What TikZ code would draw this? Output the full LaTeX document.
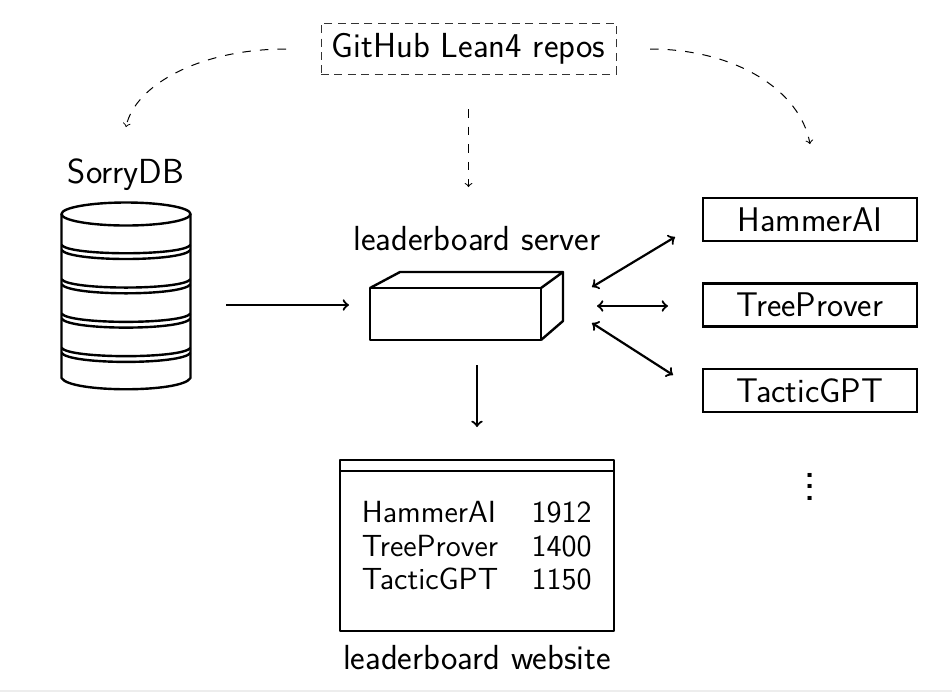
\documentclass[tikz,border=0pt]{standalone}
\usepackage{amsmath,amssymb}
\renewcommand{\familydefault}{\sfdefault}
\tikzset{
  agentbox/.style={draw,line width=1.2pt,minimum width=107pt,minimum height=21.5pt,inner sep=0pt,font=\fontsize{17.1}{22}\selectfont},
  rowtext/.style={inner sep=0pt,font=\fontsize{15.3}{20}\selectfont},
  thinarrow/.style={->,line width=0.5pt,dash pattern=on 4.3pt off 4.5pt},
  solidarrow/.style={->,line width=1.1pt},
  solidboth/.style={<->,line width=1.1pt},
  solidline/.style={line width=1.2pt,line join=round}
}
\begin{document}
\begin{tikzpicture}[x=0.5pt,y=-0.5pt,font=\fontsize{17.4}{22}\selectfont]
\useasboundingbox (0,0) rectangle (952,692);
\fill [black!7] (0,690) rectangle (952,692);
\node [draw=black!80,line width=0.5pt,dash pattern=on 4pt off 2.7pt,minimum width=147.5pt,minimum height=25.5pt,inner sep=0pt] (repos) at (468.5,48.5) {GitHub Lean4 repos};
\node (sorrydb) at (126,175) {SorryDB};
\node (server) at (477,239) {leaderboard server};
\node (website) at (477,658) {leaderboard website};
\node [agentbox] (hammer) at (810,219.5) {HammerAI};
\node [agentbox] (tree) at (810,305) {TreeProver};
\node [agentbox] (tactic) at (810,390.5) {TacticGPT};
\node [scale=1.45] (dots) at (810,478) {$\vdots$};
% database
\draw [solidline] (126,214) ellipse (64.5 and 11.5);
\draw [solidline] (61.5,214) -- (61.5,378) .. controls (70,393) and (182,393) .. (190.5,378) -- (190.5,214);
\foreach \i in {0,1,2,3} {
  \draw [solidline] (61.5,245+34.3*\i) .. controls (70,256+34.3*\i) and (182,256+34.3*\i) .. (190.5,245+34.3*\i);
  \draw [solidline] (61.5,250+34.3*\i) .. controls (70,262+34.3*\i) and (182,262+34.3*\i) .. (190.5,250+34.3*\i);
}
% server box
\draw [solidline] (370,288) rectangle (541,340);
\draw [solidline] (370,288) -- (400,272) -- (563,272) -- (541,288);
\draw [solidline] (563,272) -- (563,321) -- (541,340);
\coordinate (serverin) at (349,305);
\coordinate (dbout) at (226,305);
\draw [solidarrow] (dbout) -- (serverin);
\coordinate (serverout) at (477,365);
\coordinate (webin) at (477,427);
\draw [solidarrow] (serverout) -- (webin);
% agents
\coordinate (a1) at (592,287);
\coordinate (b1) at (675,237);
\coordinate (a2) at (597,306);
\coordinate (b2) at (668,306);
\coordinate (a3) at (592,323);
\coordinate (b3) at (673,375);
\draw [solidboth] (a1) -- (b1);
\draw [solidboth] (a2) -- (b2);
\draw [solidboth] (a3) -- (b3);
% website
\draw [solidline] (340,460) rectangle (614,631);
\draw [solidline] (340,471) -- (614,471);
\node [rowtext,anchor=base west] (name1) at (361.5,522.5) {HammerAI};
\node [rowtext,anchor=base west] (name2) at (361.5,556.5) {TreeProver};
\node [rowtext,anchor=base west] (name3) at (361.5,589.5) {TacticGPT};
\node [rowtext,anchor=base east] (score1) at (592,522.5) {1912};
\node [rowtext,anchor=base east] (score2) at (592,556.5) {1400};
\node [rowtext,anchor=base east] (score3) at (592,589.5) {1150};
% dashed arrows
\coordinate (l0) at (286,49);
\coordinate (l1) at (126,127);
\coordinate (c0) at (468.5,109);
\coordinate (c1) at (468.5,187);
\coordinate (r0) at (650,49);
\coordinate (r1) at (810,144);
\draw [thinarrow] (l0) .. controls (200,49) and (135,85) .. (l1);
\draw [thinarrow] (c0) -- (c1);
\draw [thinarrow] (r0) .. controls (735,49) and (800,90) .. (r1);
\end{tikzpicture}
\end{document}
